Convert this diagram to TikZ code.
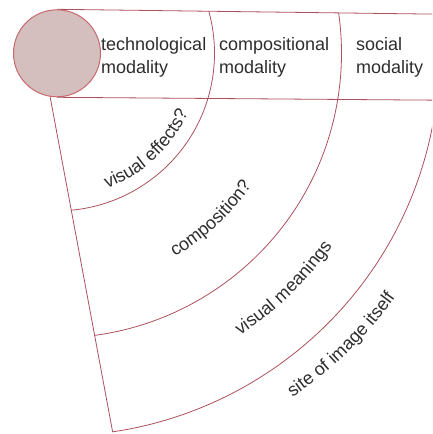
\documentclass[tikz,border=0pt]{standalone}
\usepackage{fontspec}
\setmainfont{Liberation Sans}
\usetikzlibrary{decorations.text,calc}
\definecolor{ln}{RGB}{172,80,92}
\definecolor{circfill}{RGB}{212,190,190}
\definecolor{circline}{RGB}{200,105,110}
\definecolor{txt}{RGB}{45,45,45}
\newcommand{\lblfont}{\fontsize{18}{23}\selectfont}
\begin{document}
\begin{tikzpicture}[x=1pt,y=1pt,
  frame/.style={draw=ln, line width=0.8pt},
  lbl/.style={font=\lblfont, text=txt, align=left, anchor=north west, inner sep=0pt},
  arclbl/.style={decorate, decoration={text along path, text align=center, text color=txt, text={|\lblfont|#1}}}]
\useasboundingbox (0,0) rectangle (432,-434);
\clip (0,0) rectangle (432,-434);
\coordinate (C) at (57,-53.3);
\node[circle, draw=circline, fill=circfill, line width=1pt, minimum size=87pt, inner sep=0pt] (circ) at (C) {};
% band
\coordinate (TR) at (440,-14.2);
\coordinate (BR) at (440,-100.2);
\draw[frame] (circ.north) -- (TR);
\draw[frame] (circ.south) -- (BR);
% left edge
\coordinate (L0) at (circ.-99);
\coordinate (L1) at (112.7,-432.2);
\draw[frame] (L0) -- (L1);
% arcs
\begin{scope}
\clip ($(L0)!-0.3!(L1)$) -- ($(L0)!1.05!(L1)$) -- (460,-470) -- (TR) -- (circ.north) -- cycle;
\draw[frame] (C) ++(-100:157.5) arc[start angle=-100, end angle=25, radius=157.5];
\draw[frame] (C) ++(-100:284.5) arc[start angle=-100, end angle=25, radius=284.5];
\draw[frame] (C) ++(-100:382.5) arc[start angle=-100, end angle=25, radius=382.5];
\end{scope}
% band labels
\node[lbl] (tech) at (101,-37) {technological\\modality};
\node[lbl] (comp) at (219,-37) {compositional\\modality};
\node[lbl] (soc) at (356,-37) {social\\modality};
% curved labels
\path[arclbl={visual effects?}] (C) ++(-97:144) arc[start angle=-97, end angle=3, radius=144];
\path[arclbl={composition?}] (C) ++(-87:235) arc[start angle=-87, end angle=-7, radius=235];
\path[arclbl={visual meanings}] (C) ++(-76:336) arc[start angle=-76, end angle=-16, radius=336];
\path[arclbl={site of image itself}] (C) ++(-75.7:417) arc[start angle=-75.7, end angle=-15.7, radius=417];
\end{tikzpicture}
\end{document}
